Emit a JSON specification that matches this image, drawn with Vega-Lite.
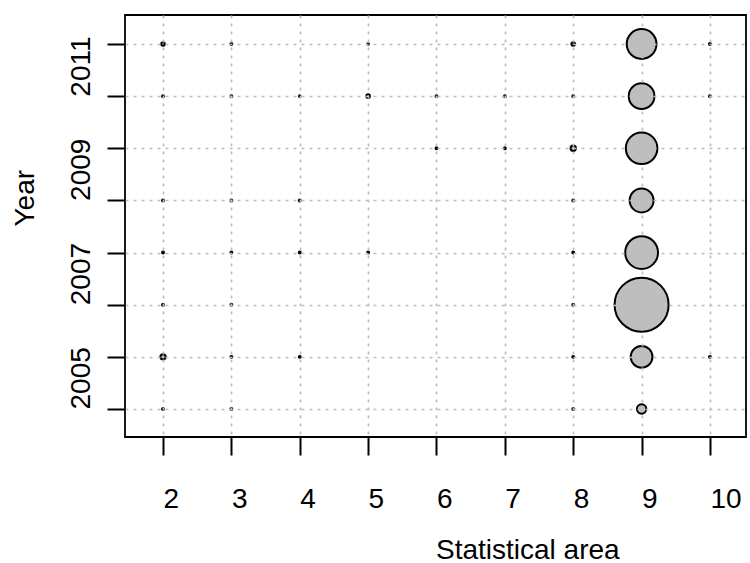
{
  "$schema": "https://vega.github.io/schema/vega-lite/v6.json",
  "width": 621,
  "height": 422,
  "autosize": {"type": "none"},
  "padding": {"left": 125, "top": 15, "right": 4, "bottom": 126},
  "background": "white",
  "config": {
    "view": {"stroke": "black", "strokeWidth": 1.8},
    "font": "Liberation Sans"
  },
  "data": {
    "values": [
      {"area": 2, "year": 2012, "value": 4},
      {"area": 3, "year": 2012, "value": 1.2},
      {"area": 5, "year": 2012, "value": 0.8},
      {"area": 8, "year": 2012, "value": 4},
      {"area": 9, "year": 2012, "value": 282},
      {"area": 10, "year": 2012, "value": 1.2},
      {"area": 2, "year": 2011, "value": 1.2},
      {"area": 3, "year": 2011, "value": 1.2},
      {"area": 4, "year": 2011, "value": 0.8},
      {"area": 5, "year": 2011, "value": 4},
      {"area": 6, "year": 2011, "value": 1.2},
      {"area": 7, "year": 2011, "value": 1.2},
      {"area": 8, "year": 2011, "value": 1.2},
      {"area": 9, "year": 2011, "value": 210},
      {"area": 10, "year": 2011, "value": 1.2},
      {"area": 6, "year": 2010, "value": 1.2},
      {"area": 7, "year": 2010, "value": 1.2},
      {"area": 8, "year": 2010, "value": 9},
      {"area": 9, "year": 2010, "value": 317},
      {"area": 2, "year": 2009, "value": 1.2},
      {"area": 3, "year": 2009, "value": 1.2},
      {"area": 4, "year": 2009, "value": 1.2},
      {"area": 8, "year": 2009, "value": 1.2},
      {"area": 9, "year": 2009, "value": 182},
      {"area": 2, "year": 2008, "value": 1.2},
      {"area": 3, "year": 2008, "value": 1.2},
      {"area": 4, "year": 2008, "value": 1.2},
      {"area": 5, "year": 2008, "value": 1.2},
      {"area": 8, "year": 2008, "value": 1.2},
      {"area": 9, "year": 2008, "value": 342},
      {"area": 2, "year": 2007, "value": 1.2},
      {"area": 3, "year": 2007, "value": 1.2},
      {"area": 8, "year": 2007, "value": 1.2},
      {"area": 9, "year": 2007, "value": 930},
      {"area": 2, "year": 2006, "value": 9},
      {"area": 3, "year": 2006, "value": 1.2},
      {"area": 4, "year": 2006, "value": 1.2},
      {"area": 8, "year": 2006, "value": 1.2},
      {"area": 9, "year": 2006, "value": 151},
      {"area": 10, "year": 2006, "value": 1.2},
      {"area": 2, "year": 2005, "value": 1.2},
      {"area": 3, "year": 2005, "value": 1.2},
      {"area": 8, "year": 2005, "value": 1.2},
      {"area": 9, "year": 2005, "value": 28}
    ]
  },
  "mark": {"type": "circle", "fill": "#bebebe", "stroke": "black", "strokeWidth": 2, "opacity": 1, "fillOpacity": 1},
  "encoding": {
    "x": {
      "field": "area",
      "type": "quantitative",
      "scale": {"domain": [1.444, 10.527], "nice": false, "zero": false},
      "axis": {
        "values": [2, 3, 4, 5, 6, 7, 8, 9, 10],
        "format": "d",
        "zindex": 1,
        "domain": false,
        "grid": true,
        "gridColor": "#bebebe",
        "gridDash": [3, 5],
        "gridWidth": 1.7,
        "ticks": true,
        "tickSize": 18,
        "tickWidth": 2,
        "tickColor": "black",
        "labelAlign": "left",
        "labelBaseline": "alphabetic",
        "labelPadding": 52,
        "labelFontSize": 28,
        "labelColor": "black",
        "labelFont": "Liberation Sans",
        "labelOverlap": false,
        "labelFlush": false,
        "title": "Statistical area",
        "titleFont": "Liberation Sans",
        "titleFontSize": 28,
        "titleFontWeight": "normal",
        "titleColor": "black",
        "titleAnchor": "middle",
        "titleAlign": "left",
        "titleBaseline": "alphabetic",
        "titlePadding": 45
      }
    },
    "y": {
      "field": "year",
      "type": "quantitative",
      "scale": {"domain": [2004.463, 2012.556], "nice": false, "zero": false},
      "axis": {
        "values": [2005, 2006, 2007, 2008, 2009, 2010, 2011, 2012],
        "format": "d",
        "labelExpr": "datum.value % 2 == 1 ? datum.label : ''",
        "zindex": 1,
        "domain": false,
        "grid": true,
        "gridColor": "#bebebe",
        "gridDash": [3, 5],
        "gridWidth": 1.7,
        "ticks": true,
        "tickSize": 18,
        "tickWidth": 2,
        "tickColor": "black",
        "labelAngle": 270,
        "labelAlign": "left",
        "labelBaseline": "alphabetic",
        "labelPadding": 18,
        "labelFontSize": 28,
        "labelColor": "black",
        "labelFont": "Liberation Sans",
        "labelOverlap": false,
        "labelFlush": false,
        "title": "Year",
        "titleFont": "Liberation Sans",
        "titleFontSize": 28,
        "titleFontWeight": "normal",
        "titleColor": "black",
        "titleAngle": 270,
        "titleAnchor": "middle",
        "titleAlign": "left",
        "titleBaseline": "alphabetic",
        "titlePadding": 34
      }
    },
    "size": {
      "field": "value",
      "type": "quantitative",
      "scale": {"type": "linear", "domain": [0, 1000], "range": [0, 3141.6], "zero": true},
      "legend": null
    }
  }
}
